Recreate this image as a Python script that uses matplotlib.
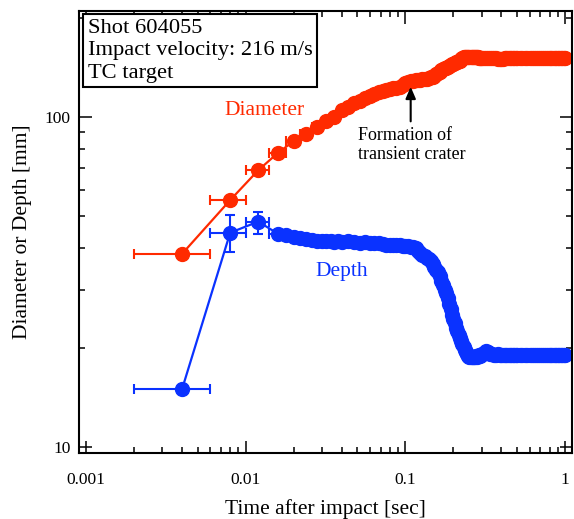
import numpy as np
import matplotlib
matplotlib.use("Agg")
import matplotlib.pyplot as plt
from matplotlib import ticker


OUTPUT_PATH = "out.png"

RED = "#ff2a00"
BLUE = "#0a32ff"

# frame time uncertainty (sec)
TIME_ERR = 0.002

DIAMETER_TIME = [
    0.004, 0.008, 0.012, 0.016, 0.020, 0.024, 0.028, 0.032, 0.036, 0.040,
    0.044, 0.048, 0.052, 0.056, 0.060, 0.064, 0.068, 0.072, 0.076, 0.080,
    0.084, 0.088, 0.092, 0.096,
    0.100, 0.104, 0.108, 0.112, 0.116, 0.120, 0.124, 0.128, 0.132, 0.136,
    0.140, 0.144, 0.148, 0.152, 0.156, 0.160, 0.164, 0.168, 0.172, 0.176,
    0.180, 0.184, 0.188, 0.192, 0.196, 0.200, 0.204, 0.208, 0.212, 0.216,
    0.220, 0.224, 0.228, 0.232, 0.236, 0.240, 0.244, 0.248, 0.252, 0.256,
    0.260, 0.264, 0.268, 0.272, 0.276, 0.280, 0.284, 0.288, 0.292, 0.296,
    0.300, 0.31, 0.32, 0.33, 0.34, 0.35, 0.36, 0.37, 0.38, 0.39,
    0.40, 0.41, 0.42, 0.43, 0.44, 0.45, 0.46, 0.47, 0.48, 0.49,
    0.50, 0.52, 0.54, 0.56, 0.58, 0.60, 0.62, 0.64, 0.66, 0.68,
    0.70, 0.72, 0.74, 0.76, 0.78, 0.80, 0.82, 0.84, 0.86, 0.88,
    0.90, 0.92, 0.94, 0.96, 0.98, 1.00,
]
DIAMETER_MM = [
    38.5, 56.0, 69.0, 78.0, 84.5, 89.0, 93.0, 97.0, 100.0, 105.0,
    107.0, 110.0, 112.0, 114.0, 116.0, 117.0, 119.0, 120.0, 121.0, 121.5,
    122.0, 122.5, 123.0, 125.0,
    126.5, 127.5, 128.5, 128.8, 129.0, 129.0, 129.5, 130.0, 130.0, 130.5,
    131.0, 132.0, 132.5, 133.5, 135.0, 136.0, 137.0, 138.5, 139.5, 140.5,
    141.0, 142.0, 143.0, 143.5, 144.5, 145.0, 146.0, 146.5, 147.0, 147.5,
    148.0, 149.5, 150.5, 151.5, 152.0, 152.0, 152.0, 152.0, 152.0, 152.0,
    152.0, 151.5, 151.5, 152.0, 152.0, 151.5, 151.5, 151.0, 151.0, 151.0,
    151.0, 151.0, 151.0, 151.0, 151.0, 151.0, 151.0, 150.5, 150.0, 149.5,
    149.5, 150.0, 150.5, 151.0, 151.0, 151.0, 151.0, 151.0, 151.0, 151.0,
    151.0, 151.0, 151.0, 151.0, 151.0, 151.0, 151.0, 151.0, 151.0, 151.0,
    151.0, 151.0, 151.0, 151.0, 151.0, 151.0, 151.0, 151.0, 151.0, 151.0,
    151.0, 151.0, 151.0, 151.0, 151.0, 151.0,
]

DEPTH_TIME = [
    0.004, 0.008, 0.012, 0.016, 0.018, 0.020, 0.022, 0.024, 0.026, 0.028,
    0.030, 0.032, 0.034, 0.036, 0.038, 0.040, 0.044, 0.048, 0.052, 0.056,
    0.060, 0.064, 0.068, 0.072, 0.076, 0.080, 0.084, 0.088, 0.092, 0.096,
    0.100, 0.104, 0.108, 0.112, 0.116, 0.120, 0.124, 0.128, 0.132, 0.136,
    0.140, 0.144, 0.148, 0.152, 0.156, 0.160, 0.164, 0.168, 0.172, 0.176,
    0.180, 0.184, 0.188, 0.192, 0.196, 0.200, 0.204, 0.208, 0.212, 0.216,
    0.220, 0.224, 0.228, 0.232, 0.236, 0.240, 0.244, 0.248, 0.252, 0.256,
    0.260, 0.264, 0.268, 0.272, 0.276, 0.280, 0.284, 0.288, 0.292, 0.296,
    0.300, 0.31, 0.32, 0.33, 0.34, 0.35, 0.36, 0.37, 0.38, 0.39,
    0.40, 0.41, 0.42, 0.43, 0.44, 0.45, 0.46, 0.47, 0.48, 0.49,
    0.50, 0.52, 0.54, 0.56, 0.58, 0.60, 0.62, 0.64, 0.66, 0.68,
    0.70, 0.72, 0.74, 0.76, 0.78, 0.80, 0.82, 0.84, 0.86, 0.88,
    0.90, 0.92, 0.94, 0.96, 0.98, 1.00,
]
DEPTH_MM = [
    15.0, 44.6, 48.2, 44.2, 43.8, 43.4, 43.0, 42.6, 42.3, 42.2,
    42.0, 42.2, 42.0, 41.8, 42.0, 41.8, 42.0, 41.8, 41.6, 41.8,
    41.5, 41.6, 41.4, 41.2, 41.0, 41.0, 40.9, 40.8, 40.8, 40.7,
    40.6, 40.6, 40.5, 40.4, 40.0, 39.3, 38.8, 38.3, 37.9, 37.5,
    37.0, 36.5, 35.9, 35.2, 34.5, 33.8, 32.9, 31.9, 30.9, 30.0,
    29.2, 28.2, 27.2, 26.2, 25.2, 24.4, 23.7, 23.0, 22.4, 21.9,
    21.4, 21.0, 20.5, 20.1, 19.7, 19.4, 19.1, 18.9, 18.8, 18.7,
    18.7, 18.8, 18.7, 18.8, 18.9, 18.8, 18.9, 19.0, 18.9, 19.0,
    19.1, 19.3, 19.5, 19.4, 19.2, 19.1, 19.0, 19.0, 19.1, 19.0,
    19.0, 19.0, 19.0, 19.0, 19.0, 19.0, 19.0, 19.0, 19.0, 19.0,
    19.0, 19.0, 19.0, 19.0, 19.0, 19.0, 19.0, 19.0, 19.0, 19.0,
    19.0, 19.0, 19.0, 19.0, 19.0, 19.0, 19.0, 19.0, 19.0, 19.0,
    19.0, 19.0, 19.0, 19.0, 19.0, 19.0,
]
# vertical error bars on the first depth points (lower, upper), mm
DEPTH_YERR_LOW = [0.0, 5.6, 4.0]
DEPTH_YERR_HIGH = [0.0, 6.0, 3.4]

INFO_TEXT = "Shot 604055\nImpact velocity: 216 m/s\nTC target"


def padded(values, n):
    out = np.zeros(n)
    out[:len(values)] = values
    return out


def plot_crater_growth():
    plt.rcParams["font.family"] = ["Liberation Serif", "DejaVu Serif"]

    fig = plt.figure(figsize=(5.74, 5.19), dpi=100)
    ax = fig.add_axes([79 / 574, 1 - 453 / 519, 493 / 574, 442 / 519])

    ax.errorbar(
        DIAMETER_TIME, DIAMETER_MM, xerr=TIME_ERR,
        fmt="o-", color=RED, ms=10, lw=1.6,
        elinewidth=1.5, capsize=3.5, capthick=1.5,
    )

    n_depth = len(DEPTH_TIME)
    yerr = [padded(DEPTH_YERR_LOW, n_depth), padded(DEPTH_YERR_HIGH, n_depth)]
    ax.errorbar(
        DEPTH_TIME, DEPTH_MM, xerr=TIME_ERR, yerr=yerr,
        fmt="o-", color=BLUE, ms=10, lw=1.6,
        elinewidth=1.5, capsize=3.5, capthick=1.5,
    )

    ax.set_xscale("log")
    ax.set_yscale("log")
    ax.set_xlim(0.000904, 1.106)
    ax.set_ylim(9.59, 209.5)

    fmt = ticker.FuncFormatter(lambda v, p: f"{v:g}")
    ax.xaxis.set_major_formatter(fmt)
    ax.yaxis.set_major_formatter(fmt)
    ax.xaxis.set_minor_formatter(ticker.NullFormatter())
    ax.yaxis.set_minor_formatter(ticker.NullFormatter())

    ax.tick_params(which="both", direction="in", top=True, right=True,
                   width=1.1, labelsize=12.5)
    ax.tick_params(which="major", length=9)
    ax.tick_params(which="minor", length=4)
    ax.tick_params(axis="x", which="both", pad=14)
    ax.tick_params(axis="y", which="both", pad=6)
    for spine in ax.spines.values():
        spine.set_linewidth(1.5)

    ax.set_xlabel("Time after impact [sec]", fontsize=15.5, labelpad=8)
    ax.set_ylabel("Diameter or Depth [mm]", fontsize=15.5, labelpad=9)

    ax.text(0.018, 0.982, INFO_TEXT, transform=ax.transAxes, fontsize=16.2,
            va="top", ha="left", linespacing=1.25,
            bbox=dict(boxstyle="square,pad=0.2", fc="white", ec="black", lw=1.5))

    ax.text(0.377, 0.776, "Diameter", transform=ax.transAxes, color=RED,
            fontsize=15.5, ha="center", va="center")
    ax.text(0.533, 0.41, "Depth", transform=ax.transAxes, color=BLUE,
            fontsize=15.5, ha="center", va="center")

    # arrow and note for transient crater formation
    ax.annotate(
        "", xy=(0.108, 123.5), xytext=(0.108, 97.0),
        arrowprops=dict(arrowstyle="-|>,head_length=0.7,head_width=0.3",
                        color="black", lw=1.5, shrinkA=0, shrinkB=0),
    )
    ax.text((358 - 79) / 493, (453 - 127) / 442, "Formation of\ntransient crater",
            transform=ax.transAxes, fontsize=13, ha="left", va="top",
            linespacing=1.15)

    fig.savefig(OUTPUT_PATH, dpi=100)
    plt.close(fig)


if __name__ == "__main__":
    plot_crater_growth()
